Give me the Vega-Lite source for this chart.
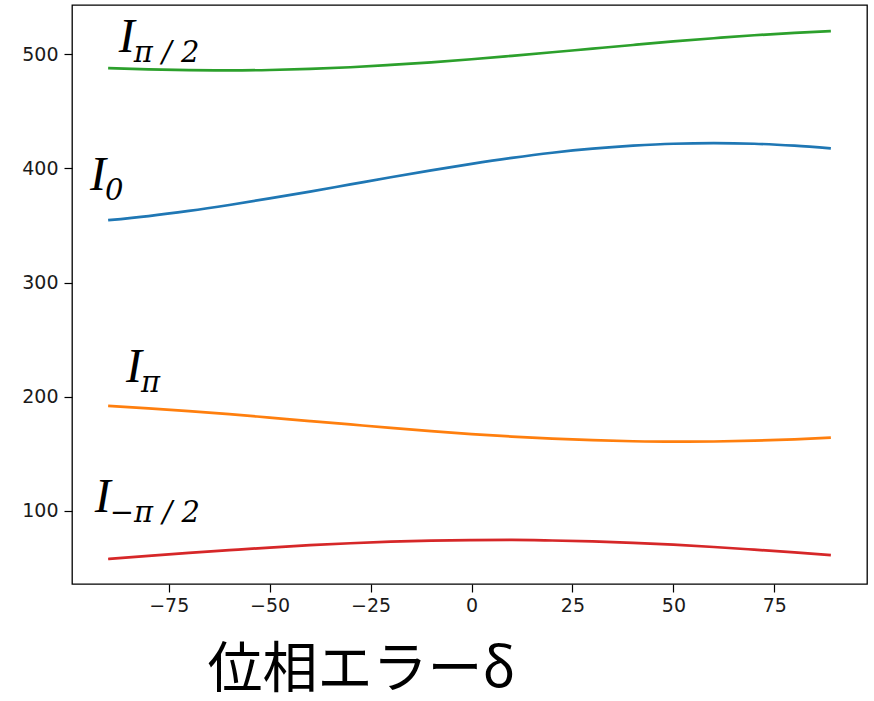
{
  "$schema": "https://vega.github.io/schema/vega-lite/v6.json",
  "width": 795,
  "height": 579,
  "autosize": "none",
  "padding": {"left": 72, "top": 5, "right": 7, "bottom": 117},
  "background": "white",
  "config": {
    "view": {"stroke": "black", "strokeWidth": 1.3},
    "axis": {
      "domain": false,
      "grid": false,
      "tickColor": "black",
      "tickWidth": 1.2,
      "tickSize": 8,
      "labelFont": "DejaVu Sans",
      "labelFontSize": 19,
      "labelColor": "#1a1a1a"
    }
  },
  "datasets": {
    "curves": [
      {"d": -90, "v": 354.6, "s": "I0"}, {"d": -80, "v": 358.2, "s": "I0"}, {"d": -70, "v": 362.7, "s": "I0"}, {"d": -60, "v": 367.9, "s": "I0"}, {"d": -50, "v": 373.6, "s": "I0"}, {"d": -40, "v": 379.6, "s": "I0"}, {"d": -30, "v": 385.9, "s": "I0"}, {"d": -20, "v": 392.2, "s": "I0"}, {"d": -10, "v": 398.2, "s": "I0"}, {"d": 0, "v": 403.9, "s": "I0"}, {"d": 10, "v": 409.1, "s": "I0"}, {"d": 20, "v": 413.6, "s": "I0"}, {"d": 30, "v": 417.2, "s": "I0"}, {"d": 40, "v": 419.8, "s": "I0"}, {"d": 50, "v": 421.5, "s": "I0"}, {"d": 60, "v": 422.0, "s": "I0"}, {"d": 70, "v": 421.5, "s": "I0"}, {"d": 80, "v": 419.8, "s": "I0"}, {"d": 89, "v": 417.5, "s": "I0"},
      {"d": -90, "v": 191.9, "s": "Ipi"}, {"d": -80, "v": 189.8, "s": "Ipi"}, {"d": -70, "v": 187.4, "s": "Ipi"}, {"d": -60, "v": 184.7, "s": "Ipi"}, {"d": -50, "v": 181.7, "s": "Ipi"}, {"d": -40, "v": 178.7, "s": "Ipi"}, {"d": -30, "v": 175.7, "s": "Ipi"}, {"d": -20, "v": 172.7, "s": "Ipi"}, {"d": -10, "v": 169.9, "s": "Ipi"}, {"d": 0, "v": 167.3, "s": "Ipi"}, {"d": 10, "v": 165.1, "s": "Ipi"}, {"d": 20, "v": 163.3, "s": "Ipi"}, {"d": 30, "v": 161.9, "s": "Ipi"}, {"d": 40, "v": 161.0, "s": "Ipi"}, {"d": 50, "v": 160.6, "s": "Ipi"}, {"d": 60, "v": 160.8, "s": "Ipi"}, {"d": 70, "v": 161.5, "s": "Ipi"}, {"d": 80, "v": 162.6, "s": "Ipi"}, {"d": 89, "v": 164.1, "s": "Ipi"},
      {"d": -90, "v": 487.8, "s": "Ipi2"}, {"d": -80, "v": 486.6, "s": "Ipi2"}, {"d": -70, "v": 485.9, "s": "Ipi2"}, {"d": -60, "v": 485.7, "s": "Ipi2"}, {"d": -50, "v": 486.1, "s": "Ipi2"}, {"d": -40, "v": 487.1, "s": "Ipi2"}, {"d": -30, "v": 488.5, "s": "Ipi2"}, {"d": -20, "v": 490.5, "s": "Ipi2"}, {"d": -10, "v": 492.8, "s": "Ipi2"}, {"d": 0, "v": 495.5, "s": "Ipi2"}, {"d": 10, "v": 498.5, "s": "Ipi2"}, {"d": 20, "v": 501.6, "s": "Ipi2"}, {"d": 30, "v": 504.8, "s": "Ipi2"}, {"d": 40, "v": 508.0, "s": "Ipi2"}, {"d": 50, "v": 511.1, "s": "Ipi2"}, {"d": 60, "v": 513.9, "s": "Ipi2"}, {"d": 70, "v": 516.5, "s": "Ipi2"}, {"d": 80, "v": 518.6, "s": "Ipi2"}, {"d": 89, "v": 520.2, "s": "Ipi2"},
      {"d": -90, "v": 57.9, "s": "Impi2"}, {"d": -80, "v": 60.6, "s": "Impi2"}, {"d": -70, "v": 63.2, "s": "Impi2"}, {"d": -60, "v": 65.6, "s": "Impi2"}, {"d": -50, "v": 67.9, "s": "Impi2"}, {"d": -40, "v": 70.0, "s": "Impi2"}, {"d": -30, "v": 71.7, "s": "Impi2"}, {"d": -20, "v": 73.1, "s": "Impi2"}, {"d": -10, "v": 74.0, "s": "Impi2"}, {"d": 0, "v": 74.5, "s": "Impi2"}, {"d": 10, "v": 74.6, "s": "Impi2"}, {"d": 20, "v": 74.1, "s": "Impi2"}, {"d": 30, "v": 73.3, "s": "Impi2"}, {"d": 40, "v": 72.0, "s": "Impi2"}, {"d": 50, "v": 70.4, "s": "Impi2"}, {"d": 60, "v": 68.4, "s": "Impi2"}, {"d": 70, "v": 66.1, "s": "Impi2"}, {"d": 80, "v": 63.7, "s": "Impi2"}, {"d": 89, "v": 61.3, "s": "Impi2"}
    ],
    "labels": [
      {"x": -87.4, "y": 501.8, "sub": "π / 2"},
      {"x": -94.5, "y": 381.0, "sub": "0"},
      {"x": -85.6, "y": 212.9, "sub": "π"},
      {"x": -93.3, "y": 99.0, "sub": "−π / 2"}
    ]
  },
  "encoding": {
    "x": {
      "type": "quantitative",
      "scale": {"domain": [-98.95, 97.95], "nice": false, "zero": false}
    },
    "y": {
      "type": "quantitative",
      "scale": {"domain": [36, 543], "nice": false, "zero": false}
    }
  },
  "layer": [
    {
      "data": {"name": "curves"},
      "mark": {"type": "line", "strokeWidth": 2.7, "interpolate": "monotone"},
      "encoding": {
        "x": {
          "field": "d",
          "type": "quantitative",
          "axis": {
            "values": [-75, -50, -25, 0, 25, 50, 75],
            "labelPadding": 4,
            "title": "位相エラーδ",
            "titleFont": "Noto Sans CJK JP",
            "titleFontSize": 55,
            "titleFontWeight": "normal",
            "titleColor": "black",
            "titleAnchor": null,
            "titleAlign": "left",
            "titleBaseline": "alphabetic",
            "titleLimit": 1000,
            "titleX": 135,
            "titleY": 102
          }
        },
        "y": {
          "field": "v",
          "type": "quantitative",
          "axis": {"values": [100, 200, 300, 400, 500], "labelPadding": 6, "title": null}
        },
        "color": {
          "field": "s",
          "type": "nominal",
          "scale": {"domain": ["I0", "Ipi", "Ipi2", "Impi2"], "range": ["#1f77b4", "#ff7f0e", "#2ca02c", "#d62728"]},
          "legend": null
        }
      }
    },
    {
      "data": {"name": "labels"},
      "mark": {"type": "text", "font": "Liberation Serif", "fontStyle": "italic", "fontSize": 48, "align": "left", "baseline": "alphabetic", "color": "black", "clip": false},
      "encoding": {
        "x": {"field": "x", "type": "quantitative"},
        "y": {"field": "y", "type": "quantitative"},
        "text": {"value": "I"}
      }
    },
    {
      "data": {"name": "labels"},
      "mark": {"type": "text", "font": "DejaVu Serif", "fontStyle": "italic", "fontSize": 29, "align": "left", "baseline": "alphabetic", "dx": 15, "dy": 10, "color": "black", "clip": false},
      "encoding": {
        "x": {"field": "x", "type": "quantitative"},
        "y": {"field": "y", "type": "quantitative"},
        "text": {"field": "sub", "type": "nominal"}
      }
    }
  ]
}
